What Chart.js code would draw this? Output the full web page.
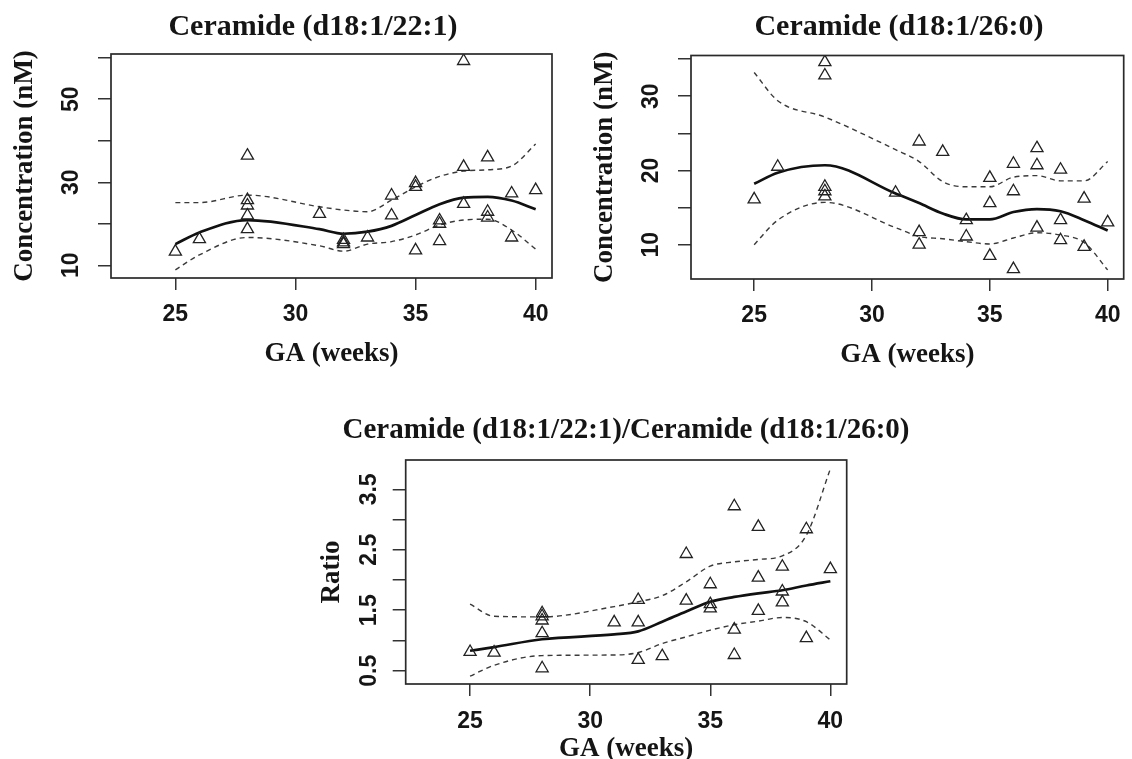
<!DOCTYPE html>
<html>
<head>
<meta charset="utf-8">
<script src="https://cdn.jsdelivr.net/npm/chart.js@4.4.1/dist/chart.umd.min.js"></script>
<style>
  html, body { margin: 0; padding: 0; background: #fff; }
  #wrap { position: relative; width: 1132px; height: 759px; overflow: hidden; background: #fff; }
  canvas { position: absolute; }
</style>
</head>
<body>
<div id="wrap">
  <canvas id="c1" width="566" height="400" style="left:0px;top:0px;"></canvas>
  <canvas id="c2" width="566" height="400" style="left:566px;top:0px;"></canvas>
  <canvas id="c3" width="1132" height="359" style="left:0px;top:400px;"></canvas>
</div>
<script>
// ---------- DATA ----------
const sampleGA = [25,26,28,28,28,28,28,31,32,32,32,33,34,34,35,35,35,36,36,36,37,37,37,38,38,38,39,39,40];

const cer221 = [13.3,16.3,36.4,25.7,24.4,22.0,18.7,22.4,16.1,15.5,15.1,16.7,26.8,22.0,29.8,28.9,13.6,20.8,20.0,15.8,59.2,33.7,24.8,36.0,22.9,21.5,27.3,16.7,28.1];
const cer260 = [16.1,20.5,34.6,32.8,17.8,17.2,16.5,17.0,23.9,11.7,10.0,22.5,13.3,11.1,19.0,15.6,8.5,20.9,17.2,6.7,23.0,20.7,12.3,20.1,13.3,10.6,16.2,9.7,13.0];
const ratio  = [0.81,0.80,1.45,1.40,1.33,1.12,0.54,1.30,1.67,1.30,0.68,0.74,2.43,1.66,1.93,1.60,1.53,3.22,1.18,0.76,2.88,2.04,1.49,2.22,1.81,1.63,2.84,1.04,2.18];

const fitGA = [25,26,28,31,32,33,34,35,36,37,38,39,40];
const cer221Fit   = [15.1,17.9,20.9,18.7,17.6,18.1,19.5,22.1,24.7,26.3,26.5,25.6,23.5];
const cer221Upper = [25.1,25.1,26.9,24.1,23.3,22.9,25.7,28.9,31.4,32.7,33.0,33.9,39.2];
const cer221Lower = [8.9,12.5,16.7,14.7,13.4,15.1,15.7,17.3,19.7,20.9,21.1,18.5,13.9];

const cer260Fit   = [18.2,19.7,20.7,16.9,15.6,14.2,13.4,13.4,14.4,14.8,14.5,13.3,11.9];
const cer260Upper = [33.2,29.4,27.2,22.8,21.2,18.5,17.8,17.8,19.1,19.3,18.6,18.6,21.2];
const cer260Lower = [10.0,13.3,15.7,12.3,11.1,10.8,10.4,10.1,10.9,11.6,11.3,10.3,6.6];

const ratioFit   = [0.83,0.89,1.02,1.10,1.15,1.31,1.48,1.64,1.72,1.78,1.83,1.91,1.98];
const ratioUpper = [1.60,1.40,1.39,1.56,1.64,1.74,1.97,2.23,2.30,2.34,2.40,2.74,3.84];
const ratioLower = [0.41,0.59,0.75,0.76,0.80,0.95,1.06,1.17,1.26,1.32,1.38,1.31,1.01];

const xTicks = [25,30,35,40];
const xTickLabels = ['25','30','35','40'];
const cer221YTicks = [10,20,30,40,50,60];
const cer221YLabels = [10,30,50];
const cer260YTicks = [10,15,20,25,30,35];
const cer260YLabels = [10,20,30];
const ratioYTicks = [0.5,1.0,1.5,2.0,2.5,3.0,3.5];
const ratioYLabels = [0.5,1.5,2.5,3.5];

const titles = ['Ceramide (d18:1/22:1)', 'Ceramide (d18:1/26:0)', 'Ceramide (d18:1/22:1)/Ceramide (d18:1/26:0)'];
const xTitle = 'GA (weeks)';
const yTitles = ['Concentration (nM)', 'Concentration (nM)', 'Ratio'];

// ---------- HELPERS ----------
const SERIF = '"Liberation Serif", "Times New Roman", Times, serif';
const SANS = '"Liberation Sans", Arial, Helvetica, sans-serif';
const pairs = (xs, ys) => xs.map((x, i) => ({x: x, y: ys[i]}));

const rDecor = {
  id: 'rDecor',
  afterDraw(chart, args, o) {
    const ctx = chart.ctx, a = chart.chartArea, xs = chart.scales.x, ys = chart.scales.y;
    ctx.save();
    ctx.strokeStyle = '#2a2a2a';
    ctx.lineWidth = 1.7;
    ctx.strokeRect(a.left, a.top, a.right - a.left, a.bottom - a.top);

    ctx.fillStyle = '#151515';
    ctx.font = 'bold 23px ' + SANS;
    ctx.textAlign = 'center';
    ctx.textBaseline = 'middle';
    o.xLabels.forEach((lab, i) => {
      ctx.fillText(lab, xs.getPixelForValue(o.xVals[i]), a.bottom + o.xTickDy);
    });
    o.yLabels.forEach(v => {
      const py = ys.getPixelForValue(v);
      ctx.save();
      ctx.translate(a.left - o.yTickDx, py);
      ctx.rotate(-Math.PI / 2);
      ctx.fillText(String(v), 0, 0);
      ctx.restore();
    });

    ctx.font = 'bold ' + o.axisSize + 'px ' + SERIF;
    ctx.fillText(o.xTitle, (a.left + a.right) / 2, a.bottom + o.xTitleDy);
    ctx.save();
    ctx.translate(a.left - o.yTitleDx, (a.top + a.bottom) / 2);
    ctx.rotate(-Math.PI / 2);
    ctx.fillText(o.yTitle, 0, 0);
    ctx.restore();

    ctx.font = 'bold ' + o.titleSize + 'px ' + SERIF;
    ctx.textBaseline = 'alphabetic';
    ctx.fillText(o.title, o.titleX, o.titleBase);
    ctx.restore();
  }
};

function makeChart(id, pts, fit, up, lo, yMin, yMax, yTicks, pad, deco) {
  const dashed = (d) => ({
    data: d, showLine: true, borderColor: '#3a3a3a', borderWidth: 1.4,
    borderDash: [5, 4], pointRadius: 0, fill: false, cubicInterpolationMode: 'monotone'
  });
  new Chart(document.getElementById(id), {
    type: 'scatter',
    data: {
      datasets: [
        { data: pts, pointStyle: 'triangle', pointRadius: 7, pointBorderWidth: 1.3,
          pointBorderColor: '#222', pointBackgroundColor: 'rgba(0,0,0,0)', showLine: false },
        { data: fit, showLine: true, borderColor: '#111', borderWidth: 2.7, pointRadius: 0,
          fill: false, cubicInterpolationMode: 'monotone' },
        dashed(up),
        dashed(lo)
      ]
    },
    options: {
      responsive: false, animation: false, devicePixelRatio: 1,
      events: [],
      layout: { padding: pad },
      plugins: { legend: { display: false }, tooltip: { enabled: false }, title: { display: false }, rDecor: deco },
      scales: {
        x: {
          type: 'linear', min: 22.32, max: 40.68,
          afterBuildTicks: s => { s.ticks = xTicks.map(v => ({value: v})); },
          afterFit: s => { s.height = 0; },
          ticks: { display: false },
          border: { display: false },
          grid: { drawOnChartArea: false, drawTicks: true, tickLength: 12, color: '#333', lineWidth: 1.5 }
        },
        y: {
          type: 'linear', min: yMin, max: yMax,
          afterBuildTicks: s => { s.ticks = yTicks.map(v => ({value: v})); },
          afterFit: s => { s.width = 0; },
          ticks: { display: false },
          border: { display: false },
          grid: { drawOnChartArea: false, drawTicks: true, tickLength: 13, color: '#333', lineWidth: 1.5 }
        }
      }
    },
    plugins: [rDecor]
  });
}

makeChart('c1', pairs(sampleGA, cer221), pairs(fitGA, cer221Fit), pairs(fitGA, cer221Upper), pairs(fitGA, cer221Lower),
  6.94, 60.89, cer221YTicks,
  { left: 111, top: 54, right: 566 - 552, bottom: 400 - 278 },
  { xVals: xTicks, xLabels: xTickLabels, yLabels: cer221YLabels, xTickDy: 37, yTickDx: 39,
    xTitle: xTitle, yTitle: yTitles[0], xTitleDy: 76, yTitleDx: 86, axisSize: 27,
    title: titles[0], titleSize: 30, titleX: 313, titleBase: 35 });

makeChart('c2', pairs(sampleGA, cer260), pairs(fitGA, cer260Fit), pairs(fitGA, cer260Upper), pairs(fitGA, cer260Lower),
  5.375, 35.49, cer260YTicks,
  { left: 125, top: 55.5, right: 1, bottom: 400 - 279 },
  { xVals: xTicks, xLabels: xTickLabels, yLabels: cer260YLabels, xTickDy: 37, yTickDx: 39,
    xTitle: xTitle, yTitle: yTitles[1], xTitleDy: 76, yTitleDx: 86, axisSize: 27,
    title: titles[1], titleSize: 30, titleX: 899 - 566, titleBase: 35 });

makeChart('c3', pairs(sampleGA, ratio), pairs(fitGA, ratioFit), pairs(fitGA, ratioUpper), pairs(fitGA, ratioLower),
  0.28, 3.985, ratioYTicks,
  { left: 405.7, top: 60, right: 1132 - 846.7, bottom: 359 - 284 },
  { xVals: xTicks, xLabels: xTickLabels, yLabels: ratioYLabels, xTickDy: 38, yTickDx: 36,
    xTitle: xTitle, yTitle: yTitles[2], xTitleDy: 65, yTitleDx: 74, axisSize: 27,
    title: titles[2], titleSize: 29, titleX: 626, titleBase: 38 });
</script>
</body>
</html>
